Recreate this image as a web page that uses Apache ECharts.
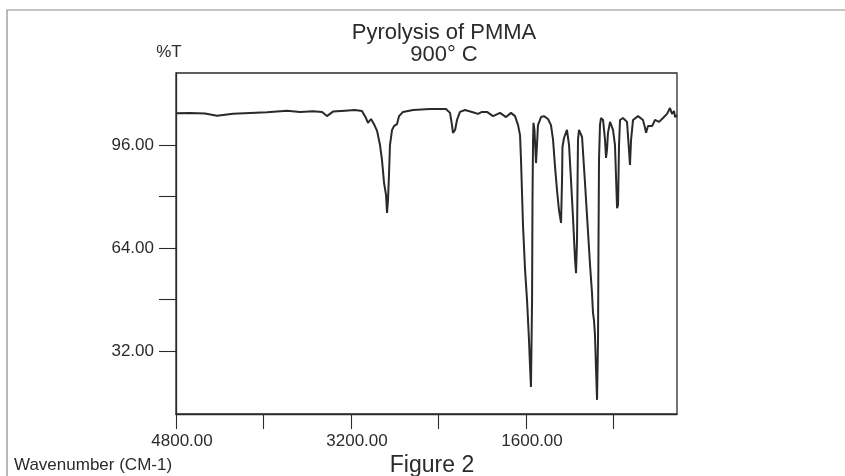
<!DOCTYPE html>
<html>
<head>
<meta charset="utf-8">
<script src="https://cdn.jsdelivr.net/npm/echarts@6/dist/echarts.min.js"></script>
<style>
html,body{margin:0;padding:0;background:#fff;}
#chart{width:845px;height:476px;}
</style>
</head>
<body>
<div id="chart"></div>
<script>
// Wavenumber (cm-1)
var wavenumbers = [4800,4672,4535,4425,4279,4123,3968,3785,3666,3548,3465,3420,3365,3255,3164,3100,3063,3045,3017,2990,2962,2935,2917,2898,2889,2880,2871,2862,2853,2844,2825,2807,2789,2780,2761,2725,2633,2478,2332,2295,2277,2268,2249,2231,2204,2158,2094,2039,2003,1957,1902,1838,1783,1737,1701,1673,1655,1646,1628,1609,1591,1573,1564,1555,1545,1541,1536,1532,1523,1509,1500,1491,1463,1436,1399,1372,1353,1335,1317,1299,1280,1271,1267,1253,1226,1207,1189,1171,1152,1143,1134,1129,1125,1116,1088,1061,1033,1015,997,988,979,970,960,951,942,938,933,924,915,896,878,869,860,851,832,805,787,768,759,750,741,714,677,659,650,640,622,576,531,512,503,485,448,421,384,348,311,284,266,247,238,220];
// Transmittance (%T)
var transmittance = [105.9,106.0,105.8,105.1,105.7,106.0,106.2,106.7,106.3,106.5,106.3,105.0,106.4,106.7,106.9,106.6,104.4,102.9,104.1,102.5,100.4,96.0,91.4,84.2,83.6,80.5,74.9,78.9,86.7,96.0,100.7,101.9,101.6,102.5,105.0,106.3,106.9,107.2,107.2,106.0,102.2,99.8,100.7,103.8,106.3,106.9,106.3,105.7,106.3,106.3,105.0,106.0,104.7,106.0,105.0,102.2,99.1,91.4,71.2,57.2,47.8,35.4,27.6,20.8,47.8,78.9,97.6,102.9,100.7,90.4,96.0,102.2,104.7,105.0,104.1,102.2,97.6,89.2,82.0,75.8,71.8,85.1,95.4,98.2,100.7,96.0,85.1,73.6,60.3,56.2,66.5,85.1,97.6,100.7,98.5,84.2,68.7,58.7,50.0,43.8,41.6,37.0,26.1,16.8,35.4,63.4,91.4,102.2,104.4,103.8,97.6,92.0,94.5,99.8,103.2,100.7,96.0,76.4,77.4,96.0,103.8,104.4,103.2,94.5,89.8,97.6,103.8,105.0,103.8,101.3,99.8,101.9,101.9,103.8,103.2,104.4,105.7,107.5,105.7,106.6,104.7,105.3];

var xTicks = [4800,4000,3200,2400,1600,800];
var xLabels = [4800,3200,1600];
var yTicks = [32,48,64,80,96];
var yLabels = [32,64,96];

var data = wavenumbers.map(function(w,i){return [w, transmittance[i]];});

var FONT = '"Liberation Sans", Arial, Helvetica, sans-serif';
var ink = '#2b2b2b';
var chart = echarts.init(document.getElementById('chart'), null, {renderer:'canvas'});
chart.setOption({
  animation:false,
  backgroundColor:'#ffffff',
  title:[
    {text:'Pyrolysis of PMMA', left:439, top:17, textAlign:'center',
     textStyle:{fontFamily:FONT, fontSize:22, fontWeight:'normal', color:ink}},
    {text:'900° C', left:439, top:39, textAlign:'center',
     textStyle:{fontFamily:FONT, fontSize:22, fontWeight:'normal', color:ink}},
    {text:'%T', left:164, top:39, textAlign:'center',
     textStyle:{fontFamily:FONT, fontSize:17, fontWeight:'normal', color:ink}},
    {text:'Wavenumber (CM-1)', left:9, top:452,
     textStyle:{fontFamily:FONT, fontSize:17, fontWeight:'normal', color:ink}},
    {text:'Figure 2', left:427, top:449, textAlign:'center',
     textStyle:{fontFamily:FONT, fontSize:23, fontWeight:'normal', color:ink}}
  ],
  graphic:[
    {type:'polyline', silent:true, shape:{points:[[7,476],[7,10],[845,10]]},
     style:{stroke:'#8a8a8a', lineWidth:1.2, fill:null}}
  ],
  grid:{left:176, right:168, top:73, bottom:62, show:true, borderColor:ink, borderWidth:1.3, backgroundColor:'transparent'},
  xAxis:{
    type:'value', inverse:true, min:220, max:4800,
    splitLine:{show:false},
    axisLine:{show:true, lineStyle:{color:ink, width:1.3}},
    axisTick:{show:true, inside:false, length:15, customValues:xTicks, lineStyle:{color:ink, width:1.1}},
    axisLabel:{show:true, customValues:xLabels, margin:19, padding:[0,0,0,12],
      formatter:function(v){return v.toFixed(2);},
      fontFamily:FONT, fontSize:17, color:ink}
  },
  yAxis:{
    type:'value', min:12.4, max:118.4,
    splitLine:{show:false},
    axisLine:{show:true, lineStyle:{color:ink, width:1.3}},
    axisTick:{show:true, inside:false, length:17, customValues:yTicks, lineStyle:{color:ink, width:1.1}},
    axisLabel:{show:true, customValues:yLabels, margin:22,
      formatter:function(v){return v.toFixed(2);},
      fontFamily:FONT, fontSize:17, color:ink}
  },
  series:[{
    type:'line', data:data, showSymbol:false, smooth:false,
    lineStyle:{color:'#2a2a2a', width:2}
  }]
});
</script>
</body>
</html>
